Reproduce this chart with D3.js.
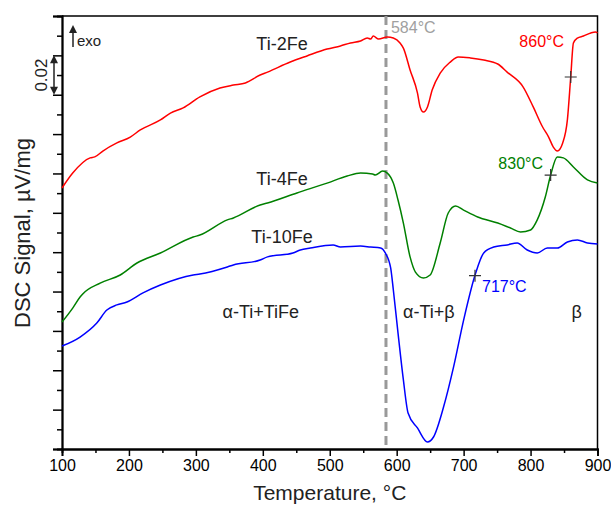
<!DOCTYPE html>
<html>
<head>
<meta charset="utf-8">
<script src="https://cdn.jsdelivr.net/npm/d3@7"></script>
<style>
  body { margin: 0; background: #fff; }
  svg { font-family: Arial, "Liberation Sans", sans-serif; }
</style>
</head>
<body>
<svg id="chart" width="611" height="506"></svg>
<script>
// temperatures (°C) and DSC signal (µV/mg, with arbitrary offsets)
const tRed = [100, 116, 142, 149, 161, 182, 202, 217, 247, 262, 281, 306, 336, 356, 374, 396, 407, 441, 466, 496, 516, 531, 546, 556, 561, 565, 573, 586, 595, 605, 610, 620, 631, 635, 640, 646, 653, 665, 680, 692, 710, 730, 751, 765, 789, 804, 818, 827, 834, 840, 848, 855, 860, 864, 870, 879, 890, 897, 900];
const vRed = [0.1326, 0.1402, 0.1479, 0.1484, 0.1514, 0.1555, 0.1585, 0.1621, 0.1672, 0.1707, 0.1733, 0.1789, 0.1834, 0.1849, 0.1860, 0.1900, 0.1915, 0.1966, 0.1997, 0.2032, 0.2048, 0.2063, 0.2073, 0.2088, 0.2083, 0.2098, 0.2083, 0.2093, 0.2088, 0.2063, 0.2037, 0.1926, 0.1809, 0.1738, 0.1712, 0.1738, 0.1824, 0.1910, 0.1966, 0.1992, 0.1987, 0.1976, 0.1956, 0.1915, 0.1839, 0.1738, 0.1636, 0.1585, 0.1534, 0.1514, 0.1555, 0.1672, 0.1890, 0.2063, 0.2088, 0.2098, 0.2114, 0.2119, 0.2114];

const tGreen = [100, 116, 127, 131, 157, 187, 212, 247, 296, 306, 347, 356, 396, 407, 451, 496, 526, 546, 564, 568, 579, 586, 595, 602, 610, 620, 628, 640, 650, 665, 677, 688, 700, 721, 751, 770, 785, 800, 810, 822, 830, 840, 849, 864, 885, 900];
const vGreen = [0.0645, 0.0716, 0.0772, 0.0788, 0.0843, 0.0884, 0.0945, 0.0996, 0.1077, 0.1087, 0.1164, 0.1174, 0.1240, 0.1250, 0.1301, 0.1351, 0.1387, 0.1402, 0.1397, 0.1392, 0.1412, 0.1402, 0.1351, 0.1265, 0.1148, 0.0976, 0.0899, 0.0869, 0.0884, 0.1047, 0.1199, 0.1235, 0.1214, 0.1179, 0.1148, 0.1123, 0.1103, 0.1113, 0.1164, 0.1280, 0.1392, 0.1484, 0.1479, 0.1433, 0.1367, 0.1351];

const tBlue = [100, 127, 152, 167, 182, 197, 221, 247, 296, 306, 347, 356, 396, 407, 445, 456, 471, 505, 516, 546, 561, 576, 583, 591, 595, 602, 610, 617, 631, 646, 655, 670, 685, 700, 718, 730, 745, 765, 780, 795, 810, 825, 840, 855, 870, 885, 900];
const vBlue = [0.0523, 0.0569, 0.0640, 0.0706, 0.0732, 0.0747, 0.0793, 0.0833, 0.0884, 0.0889, 0.0925, 0.0935, 0.0960, 0.0976, 0.0996, 0.1011, 0.1021, 0.1037, 0.1026, 0.1031, 0.1026, 0.1021, 0.0996, 0.0920, 0.0808, 0.0589, 0.0351, 0.0183, 0.0107, 0.0036, 0.0061, 0.0213, 0.0417, 0.0655, 0.0894, 0.0996, 0.1026, 0.1037, 0.1047, 0.1011, 0.0996, 0.1021, 0.1021, 0.1052, 0.1062, 0.1047, 0.1042];

const seriesNames = ["Ti-2Fe", "Ti-4Fe", "Ti-10Fe"];
const xTicks = [100, 200, 300, 400, 500, 600, 700, 800, 900];
const eutectoidT = 584;
const markT = [860, 830, 717];   // transus marks on each curve
const markText = ["860°C", "830°C", "717°C"];
const regions = ["α-Ti+TiFe", "α-Ti+β", "β"];
const regionT = [397, 648, 869];

const colors = ["#ff0000", "#008000", "#0000ff"];

const svg = d3.select("#chart");
const mLeft = 62, mTop = 16, w = 535.5, h = 433;

const x = d3.scaleLinear().domain([100, 900]).range([mLeft, mLeft + w]);
const y = d3.scaleLinear().domain([0, 0.22]).range([mTop + h, mTop]);

const series = [
  tRed.map((t, i) => [t, vRed[i]]),
  tGreen.map((t, i) => [t, vGreen[i]]),
  tBlue.map((t, i) => [t, vBlue[i]])
];

// frame
svg.append("path")
  .attr("d", `M${mLeft},${mTop}H${mLeft + w}V${mTop + h}`)
  .attr("fill", "none").attr("stroke", "#000").attr("stroke-width", 1.5);

// x axis
const gx = svg.append("g").attr("transform", `translate(0,${mTop + h})`);
gx.append("g").call(d3.axisBottom(x).tickValues(d3.range(150, 900, 100)).tickSize(4).tickFormat(""));
gx.append("g").call(d3.axisBottom(x).tickValues(xTicks).tickSize(7).tickPadding(4).tickFormat(d3.format("d")));
gx.selectAll(".domain").attr("stroke-width", 1.8);
gx.selectAll("line").attr("stroke-width", 1.5);
gx.selectAll("text").attr("font-size", 16).attr("fill", "#000").attr("font-family", null);

// y axis (no labels)
const gy = svg.append("g").attr("transform", `translate(${mLeft},0)`);
gy.append("g").call(d3.axisLeft(y).tickValues(d3.range(0.01, 0.22, 0.02)).tickSize(5).tickFormat(""));
gy.append("g").call(d3.axisLeft(y).tickValues(d3.range(0, 0.2201, 0.02)).tickSize(9).tickFormat(""));
gy.selectAll(".domain").attr("stroke-width", 1.8);
gy.selectAll("line").attr("stroke-width", 1.5);

// axis titles
svg.append("text").attr("x", mLeft + w / 2).attr("y", 500)
  .attr("text-anchor", "middle").attr("font-size", 21).attr("fill", "#222")
  .text("Temperature, °C");
svg.append("text").attr("transform", `translate(30,${233}) rotate(-90)`)
  .attr("text-anchor", "middle").attr("font-size", 22).attr("fill", "#222")
  .text("DSC Signal, µV/mg");

// dashed eutectoid line
svg.append("line")
  .attr("x1", x(eutectoidT)).attr("x2", x(eutectoidT))
  .attr("y1", mTop).attr("y2", mTop + h)
  .attr("stroke", "#999").attr("stroke-width", 3).attr("stroke-dasharray", "9,5");
svg.append("text").attr("x", x(eutectoidT) + 5).attr("y", 33)
  .attr("font-size", 16).attr("fill", "#a0a0a0").text(eutectoidT + "°C");

// curves
const line = d3.line().x(d => x(d[0])).y(d => y(d[1])).curve(d3.curveMonotoneX);
svg.selectAll(".curve").data(series).enter().append("path")
  .attr("class", "curve")
  .attr("d", line)
  .attr("fill", "none")
  .attr("stroke", (d, i) => colors[i])
  .attr("stroke-width", 1.5);

// transus crosses
const interp = (s, t) => {
  const i = d3.bisector(d => d[0]).left(s, t);
  const a = s[i - 1], b = s[i];
  return a[1] + (b[1] - a[1]) * (t - a[0]) / (b[0] - a[0]);
};
markT.forEach((t, i) => {
  const cx = x(t), cy = y(interp(series[i], t));
  svg.append("path")
    .attr("d", `M${cx - 6},${cy}H${cx + 6}M${cx},${cy - 6}V${cy + 6}`)
    .attr("stroke", "#333").attr("stroke-width", 1.2);
});

// transus labels
svg.append("text").attr("x", 564).attr("y", 47).attr("text-anchor", "end")
  .attr("font-size", 16).attr("fill", colors[0]).text(markText[0]);
svg.append("text").attr("x", 543).attr("y", 169).attr("text-anchor", "end")
  .attr("font-size", 16).attr("fill", colors[1]).text(markText[1]);
svg.append("text").attr("x", 482).attr("y", 292)
  .attr("font-size", 16).attr("fill", colors[2]).text(markText[2]);

// series names
const nameY = [50, 185, 243];
seriesNames.forEach((n, i) => {
  svg.append("text").attr("x", 282).attr("y", nameY[i]).attr("text-anchor", "middle")
    .attr("font-size", 18).attr("fill", "#222").text(n);
});

// phase regions
regions.forEach((r, i) => {
  svg.append("text").attr("x", x(regionT[i])).attr("y", 318).attr("text-anchor", "middle")
    .attr("font-size", 18).attr("fill", "#222").text(r);
});

// exo arrow
svg.append("line").attr("x1", 73).attr("x2", 73).attr("y1", 32).attr("y2", 47)
  .attr("stroke", "#222").attr("stroke-width", 1.5);
svg.append("path").attr("d", "M73,25L69,33H77Z").attr("fill", "#222");
svg.append("text").attr("x", 77).attr("y", 46).attr("font-size", 15).attr("fill", "#222").text("exo");

// 0.02 scale bar
const yb1 = y(0.20), yb2 = y(0.18);
svg.append("line").attr("x1", 54).attr("x2", 54).attr("y1", yb1 + 6).attr("y2", yb2 - 6)
  .attr("stroke", "#222").attr("stroke-width", 1.5);
svg.append("path").attr("d", `M54,${yb1}L50,${yb1 + 8}H58Z M54,${yb2}L50,${yb2 - 8}H58Z`).attr("fill", "#222");
svg.append("text").attr("transform", `translate(47,${(yb1 + yb2) / 2}) rotate(-90)`)
  .attr("text-anchor", "middle").attr("font-size", 17).attr("fill", "#222").text("0.02");
</script>
</body>
</html>
